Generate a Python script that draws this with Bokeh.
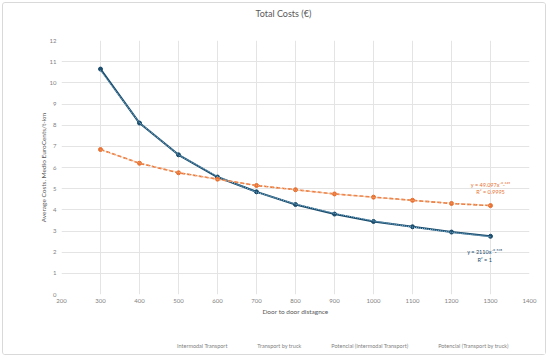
import numpy as np
from bokeh.plotting import figure
from bokeh.layouts import column
from bokeh.models import Legend, LegendItem, Label, FixedTicker, Range1d
from bokeh.embed import file_html
from bokeh.resources import INLINE

distance = [300, 400, 500, 600, 700, 800, 900, 1000, 1100, 1200, 1300]
intermodal = [10.65, 8.10, 6.60, 5.55, 4.85, 4.25, 3.80, 3.45, 3.20, 2.95, 2.75]
truck = [6.85, 6.20, 5.75, 5.45, 5.15, 4.95, 4.75, 4.60, 4.45, 4.30, 4.20]
x_ticks = list(range(200, 1401, 100))
y_ticks = list(range(0, 13))
title_text = "Total Costs (€)"
series_names = ["Intermodal Transport", "Transport by truck",
                "Potencial (Intermodal Transport)", "Potencial (Transport by truck)"]

FONT = "Lato"
GRAY = "#7f7f7f"
BLUE = "#1a4d6e"
ORANGE = "#e97132"
LBLUE = "#8fbfdc"
LORANGE = "#f4b183"
W = 542

# power trend lines fitted from the data (least squares in log-log space)
lx = np.log(np.array(distance, dtype=float))
b1, a1 = np.polyfit(lx, np.log(intermodal), 1)
b2, a2 = np.polyfit(lx, np.log(truck), 1)
xs = np.array(distance, dtype=float)
trend1 = np.exp(a1) * xs ** b1
trend2 = np.exp(a2) * xs ** b2


def blank(height, yr):
    f = figure(width=W, height=height, output_backend="svg", toolbar_location=None,
               x_range=Range1d(0, W), y_range=Range1d(0, yr),
               x_axis_location=None, y_axis_location=None,
               min_border_left=0, min_border_right=0, min_border_top=0, min_border_bottom=0)
    f.outline_line_color = None
    f.grid.grid_line_color = None
    return f


# ---- title strip ----
p0 = blank(22, 22)
p0.add_layout(Label(x=257, y=12, text=title_text, text_font=FONT, text_font_size="9px",
                    text_color="#595959", text_align="center", text_baseline="middle"))

# ---- main chart ----
p = figure(width=W, height=295, output_backend="svg", toolbar_location=None,
           x_range=Range1d(200, 1400), y_range=Range1d(0, 12),
           min_border_left=58, min_border_right=16, min_border_top=15,
           min_border_bottom=26)
p.outline_line_color = None
for ax in (p.xaxis[0], p.yaxis[0]):
    ax.axis_line_color = None
    ax.major_tick_line_color = None
    ax.minor_tick_line_color = None
    ax.major_tick_out = 0
    ax.major_tick_in = 0
    ax.major_label_text_font = FONT
    ax.major_label_text_font_size = "6px"
    ax.major_label_text_color = GRAY
    ax.axis_label_text_font = FONT
    ax.axis_label_text_font_size = "6.5px"
    ax.axis_label_text_font_style = "normal"
    ax.axis_label_text_color = "#595959"
p.xaxis.ticker = FixedTicker(ticks=x_ticks)
p.yaxis.ticker = FixedTicker(ticks=y_ticks)
p.xaxis.axis_label = "Door to door distagnce"
p.yaxis.axis_label = "Average Costs. Medio EuroCents/t-km"
p.xaxis.major_label_standoff = 4
p.yaxis.major_label_standoff = 5
p.xaxis.axis_label_standoff = 2
p.yaxis.axis_label_standoff = 0
p.xgrid.grid_line_color = "#e4e4e4"
p.ygrid.grid_line_color = "#e4e4e4"
p.xgrid.ticker = FixedTicker(ticks=x_ticks)
p.ygrid.ticker = FixedTicker(ticks=y_ticks)

p.line(distance, intermodal, line_color=BLUE, line_width=2)
p.scatter(distance, intermodal, marker="circle", size=4, fill_color=BLUE, line_color=BLUE)
p.line(distance, truck, line_color=ORANGE, line_width=1.6, line_dash="4 2")
p.scatter(distance, truck, marker="circle", size=4, fill_color=ORANGE, line_color=ORANGE)
p.line(xs, trend1, line_color=LBLUE, line_width=1, line_dash="1 1")
p.line(xs, trend2, line_color=LORANGE, line_width=1, line_dash="1 1")

labels = [
    (1285, 2.0, "y = 2110x\u207b\u2070\u00b7\u2079\u00b2\u2078", BLUE),
    (1285, 1.65, "R\u00b2 = 1", BLUE),
    (1300, 5.15, "y = 49.097x\u207b\u2070\u00b7\u00b3\u2074\u2075", ORANGE),
    (1300, 4.85, "R\u00b2 = 0.9995", ORANGE),
]
for lxv, lyv, txt, col in labels:
    p.add_layout(Label(x=lxv, y=lyv, text=txt, text_font=FONT, text_font_size="5.5px",
                       text_color=col, text_align="center", text_baseline="middle"))

# ---- legend strip (legend swatches drawn from empty renderers with the same styles) ----
p2 = blank(34, 34)
e1 = p2.line(x=[], y=[], line_color=BLUE, line_width=2)
e1m = p2.scatter(x=[], y=[], marker="circle", size=4, fill_color=BLUE, line_color=BLUE)
e2 = p2.line(x=[], y=[], line_color=ORANGE, line_width=1.6, line_dash="4 2")
e2m = p2.scatter(x=[], y=[], marker="circle", size=4, fill_color=ORANGE, line_color=ORANGE)
e3 = p2.line(x=[], y=[], line_color=LBLUE, line_width=1, line_dash="1 1")
e4 = p2.line(x=[], y=[], line_color=LORANGE, line_width=1, line_dash="1 1")

legend = Legend(items=[
    LegendItem(label=series_names[0], renderers=[e1, e1m]),
    LegendItem(label=series_names[1], renderers=[e2, e2m]),
    LegendItem(label=series_names[2], renderers=[e3]),
    LegendItem(label=series_names[3], renderers=[e4]),
], orientation="horizontal", location=(98, 4))
legend.label_text_font = FONT
legend.label_text_font_size = "5.5px"
legend.label_text_color = GRAY
legend.border_line_color = None
legend.background_fill_alpha = 0
legend.glyph_width = 16
legend.glyph_height = 8
legend.spacing = 12
legend.label_standoff = 2
legend.padding = 2
legend.margin = 0
p2.add_layout(legend, "center")

layout = column(p0, p, p2, spacing=0)
layout.styles = {"border": "1px solid #d9d9d9", "margin": "2px 0 0 2px", "border-radius": "3px"}

open("out.html", "w").write(file_html(layout, INLINE))
